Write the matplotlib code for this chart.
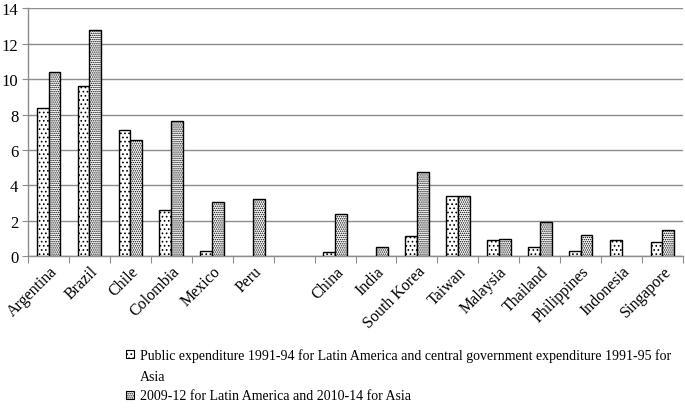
import matplotlib
matplotlib.use("Agg")
import matplotlib.pyplot as plt
import matplotlib.transforms as mtransforms
from matplotlib.patches import Rectangle
import numpy as np

plt.rcParams.update({
    "font.family": ["Liberation Serif", "DejaVu Serif"],
    "hatch.linewidth": 0.7,
})

countries = ["Argentina", "Brazil", "Chile", "Colombia", "Mexico", "Peru", "",
             "China", "India", "South Korea", "Taiwan", "Malaysia", "Thailand",
             "Philippines", "Indonesia", "Singapore"]
# nan = no bar drawn
early = [8.4, 9.6, 7.15, 2.6, 0.3, np.nan, np.nan,
         0.22, np.nan, 1.13, 3.39, 0.9, 0.5, 0.28, 0.9, 0.78]
recent = [10.4, 12.8, 6.55, 7.65, 3.05, 3.23, np.nan,
          2.39, 0.5, 4.78, 3.39, 0.97, 1.92, 1.19, np.nan, 1.49]

label_early = ("Public expenditure 1991-94 for Latin America and central government "
               "expenditure 1991-95 for\nAsia")
label_recent = "2009-12 for Latin America and 2010-14 for Asia"

HATCH_EARLY = "...."
HATCH_RECENT = "........"

W, H = 685, 410
fig = plt.figure(figsize=(W / 100, H / 100), dpi=100)
ax = fig.add_axes([0.041, 0.3724, 0.956, 0.6049])

x = np.arange(len(countries)) + 0.5
w = 0.29
ax.bar(x - w / 2, early, w, color="white", edgecolor="black", linewidth=1.0,
       hatch=HATCH_EARLY, zorder=3)
ax.bar(x + w / 2, recent, w, color="white", edgecolor="black", linewidth=1.0,
       hatch=HATCH_RECENT, zorder=3)

ax.set_xlim(0, len(countries))
ax.set_ylim(0, 14)
ax.set_yticks(np.arange(0, 15, 2))
ax.yaxis.grid(True, color="#8c8c8c", linewidth=1.0, zorder=0)
ax.set_axisbelow(True)

ax.set_xticks(np.arange(len(countries) + 1))
ax.set_xticklabels([])
ax.set_xticks(x, minor=True)
ax.set_xticklabels(countries, minor=True, rotation=45, ha="right", va="center",
                   rotation_mode="anchor", fontsize=11.5)
ax.tick_params(axis="x", which="minor", length=0, pad=9)
ax.tick_params(axis="x", which="major", length=5, color="#8c8c8c")
ax.tick_params(axis="y", length=4, color="#8c8c8c", labelsize=12, pad=3)

# nudge the rotated labels a little to the right, as in the original
shift = mtransforms.ScaledTranslation(6 / 100, 0, fig.dpi_scale_trans)
for lbl in ax.get_xticklabels(minor=True):
    lbl.set_transform(lbl.get_transform() + shift)

for side in ["top", "right"]:
    ax.spines[side].set_visible(False)
for side in ["left", "bottom"]:
    ax.spines[side].set_color("#8c8c8c")
    ax.spines[side].set_linewidth(1.0)

# legend drawn by hand so the wrapped entry gets Excel-like line spacing
box = 8
for label, hatch, yc in [(label_early, HATCH_EARLY, 355), (label_recent, HATCH_RECENT, 396)]:
    fig.add_artist(Rectangle(((130 - box / 2) / W, 1 - (yc + box / 2) / H), box / W, box / H,
                             transform=fig.transFigure, facecolor="white",
                             edgecolor="black", linewidth=0.8, hatch=hatch))
    fig.text(140 / W, 1 - (yc - 6) / H, label, ha="left", va="top",
             fontsize=10, linespacing=1.8)

fig.savefig("out.png", dpi=100)
